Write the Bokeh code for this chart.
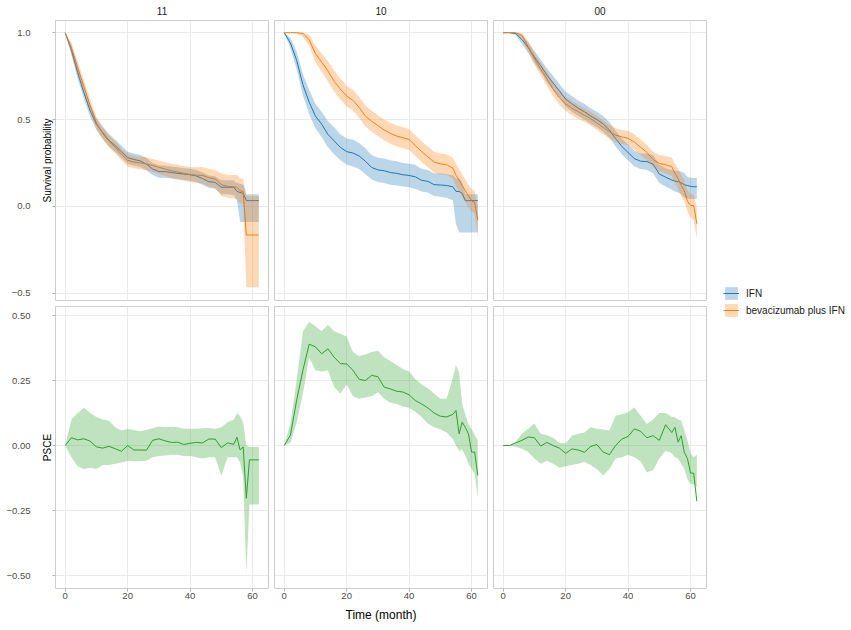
from bokeh.plotting import figure
from bokeh.layouts import row, column
from bokeh.models import (LinearAxis, FixedTicker, Grid, Legend, LegendItem,
                          Range1d)
from bokeh.embed import file_html
from bokeh.resources import INLINE

FONT = "Liberation Sans"
BLUE = "#1f77b4"
ORANGE = "#ff7f0e"
GREEN = "#2ca02c"
GRID_COLOR = "#ebebeb"
BORDER_COLOR = "#cccccc"
TICK_COLOR = "#b3b3b3"

# ---------------------------------------------------------------- data
months = [0, 2, 4, 6, 8, 10, 12, 14, 16, 18, 20, 22, 24, 26, 28, 30, 32, 34,
          36, 38, 40, 42, 44, 46, 48, 50, 52, 54, 55, 56, 57, 58, 59, 60, 61, 62]

strata = ["11", "10", "00"]
arm_labels = ["IFN", "bevacizumab plus IFN"]

# stratum 11
ifn_11 = [1.0, 0.90, 0.77, 0.655, 0.55, 0.473, 0.425, 0.38, 0.35, 0.315,
          0.28, 0.27, 0.262, 0.243, 0.215, 0.20, 0.20, 0.195, 0.19, 0.186,
          0.182, 0.175, 0.16, 0.142, 0.138, 0.11, 0.11, 0.11,
          0.086, 0.08, 0.075, 0.033, 0.033, 0.033, 0.033, 0.033]
ifn_11_lo = [1.0, 0.87, 0.735, 0.62, 0.515, 0.44, 0.39, 0.345, 0.315, 0.28,
             0.245, 0.235, 0.227, 0.208, 0.18, 0.165, 0.165, 0.16, 0.155, 0.152,
             0.148, 0.14, 0.125, 0.107, 0.102, 0.07, 0.07, 0.065,
             0.035, -0.09, -0.09, -0.09, -0.09, -0.09, -0.09, -0.09]
ifn_11_hi = [1.0, 0.93, 0.805, 0.69, 0.585, 0.506, 0.46, 0.415, 0.385, 0.35,
             0.315, 0.305, 0.297, 0.278, 0.25, 0.235, 0.235, 0.23, 0.225, 0.22,
             0.216, 0.21, 0.195, 0.177, 0.174, 0.15, 0.15, 0.15,
             0.135, 0.13, 0.125, 0.07, 0.07, 0.07, 0.07, 0.07]
bev_11 = [1.0, 0.91, 0.80, 0.69, 0.58, 0.48, 0.42, 0.375, 0.34, 0.30,
          0.265, 0.255, 0.25, 0.245, 0.235, 0.225, 0.215, 0.205, 0.198, 0.19,
          0.183, 0.18, 0.178, 0.165, 0.158, 0.125, 0.115, 0.112,
          0.11, 0.09, 0.085, -0.165, -0.165, -0.165, -0.165, -0.165]
bev_11_lo = [1.0, 0.88, 0.765, 0.655, 0.545, 0.445, 0.385, 0.34, 0.305, 0.265,
             0.23, 0.22, 0.214, 0.208, 0.198, 0.187, 0.176, 0.165, 0.157, 0.148,
             0.14, 0.135, 0.13, 0.115, 0.105, 0.06, 0.05, 0.045,
             0.04, 0.02, 0.01, -0.466, -0.466, -0.466, -0.466, -0.466]
bev_11_hi = [1.0, 0.94, 0.835, 0.725, 0.615, 0.515, 0.455, 0.41, 0.375, 0.335,
             0.30, 0.29, 0.286, 0.282, 0.272, 0.263, 0.254, 0.245, 0.239, 0.232,
             0.226, 0.225, 0.226, 0.215, 0.21, 0.19, 0.18, 0.18,
             0.18, 0.16, 0.16, 0.06, 0.06, 0.06, 0.06, 0.06]

# stratum 10
ifn_10 = [1.0, 0.94, 0.84, 0.70, 0.60, 0.52, 0.473, 0.415, 0.377, 0.34,
          0.315, 0.307, 0.29, 0.26, 0.224, 0.21, 0.205, 0.195, 0.19, 0.182,
          0.178, 0.17, 0.15, 0.144, 0.125, 0.123, 0.12, 0.113,
          0.086, 0.086, 0.075, 0.033, 0.033, 0.033, 0.033, 0.033]
ifn_10_lo = [1.0, 0.91, 0.79, 0.64, 0.53, 0.45, 0.40, 0.34, 0.30, 0.265,
             0.24, 0.23, 0.215, 0.185, 0.155, 0.14, 0.135, 0.125, 0.12, 0.115,
             0.11, 0.10, 0.085, 0.08, 0.06, 0.055, 0.05, 0.035,
             -0.10, -0.15, -0.15, -0.15, -0.15, -0.15, -0.15, -0.15]
ifn_10_hi = [1.0, 0.97, 0.89, 0.76, 0.67, 0.59, 0.545, 0.49, 0.455, 0.415,
             0.39, 0.385, 0.365, 0.335, 0.295, 0.28, 0.275, 0.265, 0.26, 0.25,
             0.245, 0.24, 0.215, 0.21, 0.19, 0.19, 0.185, 0.18,
             0.16, 0.16, 0.14, 0.07, 0.07, 0.07, 0.07, 0.07]
bev_10 = [1.0, 1.0, 1.0, 0.995, 0.96, 0.88, 0.83, 0.78, 0.72, 0.675,
          0.635, 0.61, 0.57, 0.52, 0.49, 0.465, 0.44, 0.42, 0.405, 0.395,
          0.385, 0.35, 0.315, 0.285, 0.255, 0.245, 0.24, 0.22,
          0.18, 0.15, 0.12, 0.09, 0.06, 0.033, 0.023, -0.08]
bev_10_lo = [1.0, 1.0, 0.995, 0.975, 0.925, 0.83, 0.775, 0.72, 0.66, 0.615,
             0.575, 0.55, 0.51, 0.46, 0.43, 0.405, 0.38, 0.36, 0.345, 0.335,
             0.325, 0.29, 0.255, 0.225, 0.195, 0.185, 0.18, 0.16,
             0.115, 0.085, 0.055, 0.025, -0.005, -0.03, -0.04, -0.18]
bev_10_hi = [1.0, 1.0, 1.0, 1.0, 0.99, 0.925, 0.88, 0.835, 0.78, 0.735,
             0.695, 0.67, 0.63, 0.58, 0.55, 0.525, 0.50, 0.48, 0.465, 0.455,
             0.445, 0.41, 0.375, 0.345, 0.315, 0.305, 0.30, 0.28,
             0.245, 0.215, 0.185, 0.155, 0.125, 0.10, 0.09, 0.0]

# stratum 00
ifn_00 = [1.0, 1.0, 0.995, 0.96, 0.915, 0.86, 0.81, 0.755, 0.71, 0.665,
          0.617, 0.59, 0.565, 0.545, 0.52, 0.50, 0.475, 0.44, 0.39, 0.345,
          0.31, 0.275, 0.26, 0.258, 0.243, 0.186, 0.168, 0.152,
          0.145, 0.143, 0.135, 0.125, 0.12, 0.115, 0.113, 0.113]
ifn_00_lo = [1.0, 1.0, 0.985, 0.935, 0.885, 0.825, 0.775, 0.715, 0.67, 0.625,
             0.575, 0.545, 0.52, 0.50, 0.475, 0.455, 0.43, 0.395, 0.345, 0.30,
             0.265, 0.23, 0.215, 0.21, 0.19, 0.135, 0.115, 0.095,
             0.085, 0.08, 0.07, 0.05, 0.045, 0.042, 0.042, 0.042]
ifn_00_hi = [1.0, 1.0, 1.0, 0.985, 0.945, 0.895, 0.845, 0.795, 0.75, 0.705,
             0.66, 0.635, 0.61, 0.59, 0.565, 0.545, 0.52, 0.485, 0.435, 0.39,
             0.355, 0.32, 0.305, 0.305, 0.295, 0.24, 0.22, 0.21,
             0.205, 0.205, 0.20, 0.19, 0.17, 0.165, 0.163, 0.163]
bev_00 = [1.0, 1.0, 1.0, 0.985, 0.92, 0.85, 0.79, 0.735, 0.675, 0.625,
          0.59, 0.565, 0.545, 0.525, 0.505, 0.48, 0.455, 0.43, 0.41, 0.40,
          0.392, 0.37, 0.34, 0.31, 0.27, 0.247, 0.24, 0.228,
          0.19, 0.16, 0.12, 0.09, 0.03, 0.005, 0.005, -0.10]
bev_00_lo = [1.0, 1.0, 0.995, 0.965, 0.89, 0.815, 0.755, 0.695, 0.635, 0.585,
             0.55, 0.525, 0.505, 0.485, 0.465, 0.44, 0.415, 0.39, 0.37, 0.36,
             0.35, 0.325, 0.295, 0.265, 0.225, 0.20, 0.19, 0.175,
             0.135, 0.10, 0.06, 0.03, -0.03, -0.06, -0.08, -0.19]
bev_00_hi = [1.0, 1.0, 1.0, 1.0, 0.95, 0.885, 0.825, 0.775, 0.715, 0.665,
             0.63, 0.605, 0.585, 0.565, 0.545, 0.52, 0.495, 0.47, 0.45, 0.44,
             0.435, 0.415, 0.385, 0.355, 0.315, 0.295, 0.29, 0.28,
             0.245, 0.22, 0.18, 0.15, 0.09, 0.07, 0.07, -0.01]

# PSCE per stratum
psce_11 = [0.0, 0.03, 0.022, 0.026, 0.017, -0.005, -0.01, -0.003, -0.012, -0.022,
           0.0, -0.017, -0.017, -0.018, 0.02, 0.026, 0.018, 0.012, 0.013, 0.004,
           0.009, 0.012, 0.01, 0.025, 0.025, -0.008, 0.01, 0.005,
           0.032, -0.017, -0.005, -0.203, -0.055, -0.055, -0.055, -0.055]
psce_11_lo = [0.0, -0.045, -0.08, -0.09, -0.085, -0.09, -0.075, -0.075, -0.07, -0.065,
              -0.058, -0.06, -0.06, -0.058, -0.045, -0.04, -0.038, -0.035, -0.035, -0.04,
              -0.04, -0.045, -0.05, -0.045, -0.045, -0.115, -0.045, -0.045,
              -0.045, -0.065, -0.12, -0.49, -0.227, -0.227, -0.227, -0.227]
psce_11_hi = [0.0, 0.10, 0.125, 0.145, 0.125, 0.11, 0.10, 0.095, 0.07, 0.058,
              0.064, 0.06, 0.055, 0.06, 0.068, 0.073, 0.07, 0.072, 0.07, 0.065,
              0.065, 0.065, 0.067, 0.068, 0.065, 0.07, 0.09, 0.10,
              0.124, 0.115, 0.09, 0.0, -0.006, -0.006, -0.006, -0.006]

psce_10 = [0.0, 0.04, 0.175, 0.29, 0.39, 0.38, 0.353, 0.372, 0.34, 0.315,
           0.314, 0.29, 0.255, 0.25, 0.27, 0.265, 0.225, 0.218, 0.209, 0.206,
           0.195, 0.173, 0.16, 0.145, 0.125, 0.113, 0.11, 0.12,
           0.135, 0.045, 0.09, 0.07, 0.045, -0.025, -0.025, -0.115]
psce_10_lo = [0.0, 0.01, 0.09, 0.20, 0.34, 0.29, 0.285, 0.29, 0.225, 0.20,
              0.235, 0.19, 0.18, 0.185, 0.19, 0.205, 0.18, 0.165, 0.16, 0.15,
              0.145, 0.13, 0.11, 0.085, 0.07, 0.063, 0.05, 0.025,
              0.0, -0.02, -0.015, -0.04, -0.07, -0.09, -0.11, -0.20]
psce_10_hi = [0.0, 0.085, 0.25, 0.44, 0.475, 0.46, 0.44, 0.465, 0.44, 0.43,
              0.42, 0.36, 0.345, 0.35, 0.36, 0.365, 0.34, 0.325, 0.31, 0.295,
              0.285, 0.255, 0.235, 0.22, 0.20, 0.18, 0.18, 0.26,
              0.31, 0.28, 0.16, 0.12, 0.083, 0.064, 0.04, 0.02]

psce_00 = [0.0, 0.0, 0.01, 0.02, 0.033, 0.03, -0.002, 0.012, 0.0, -0.01,
           -0.03, -0.013, -0.017, -0.026, -0.004, 0.004, -0.025, -0.035, 0.0, 0.025,
           0.035, 0.064, 0.055, 0.03, 0.038, 0.02, 0.08, 0.05,
           0.07, 0.013, 0.038, -0.026, -0.05, -0.106, -0.106, -0.214]
psce_00_lo = [0.0, 0.0, -0.005, -0.012, -0.025, -0.05, -0.07, -0.058, -0.07, -0.085,
              -0.08, -0.075, -0.07, -0.062, -0.075, -0.09, -0.115, -0.09, -0.05, -0.045,
              -0.035, -0.045, -0.06, -0.103, -0.095, -0.05, -0.02, -0.03,
              -0.045, -0.05, -0.07, -0.09, -0.13, -0.147, -0.15, -0.16]
psce_00_hi = [0.0, 0.0, 0.015, 0.045, 0.065, 0.085, 0.045, 0.04, 0.03, 0.01,
              0.008, 0.038, 0.045, 0.05, 0.07, 0.065, 0.062, 0.058, 0.115, 0.12,
              0.128, 0.147, 0.115, 0.083, 0.10, 0.125, 0.125, 0.11,
              0.109, 0.10, 0.095, 0.06, 0.02, -0.03, -0.045, -0.035]

time_ticks = [0, 20, 40, 60]
surv_ticks = [-0.5, 0.0, 0.5, 1.0]
surv_tick_labels = ["\u22120.5", "0.0", "0.5", "1.0"]
psce_ticks = [-0.5, -0.25, 0.0, 0.25, 0.5]
psce_tick_labels = ["\u22120.50", "\u22120.25", "0.00", "0.25", "0.50"]

survival = {
    "11": [(ifn_11, ifn_11_lo, ifn_11_hi), (bev_11, bev_11_lo, bev_11_hi)],
    "10": [(ifn_10, ifn_10_lo, ifn_10_hi), (bev_10, bev_10_lo, bev_10_hi)],
    "00": [(ifn_00, ifn_00_lo, ifn_00_hi), (bev_00, bev_00_lo, bev_00_hi)],
}
psce = {
    "11": (psce_11, psce_11_lo, psce_11_hi),
    "10": (psce_10, psce_10_lo, psce_10_hi),
    "00": (psce_00, psce_00_lo, psce_00_hi),
}

X_RANGE = (-3.1, 65.1)
SURV_RANGE = (-0.542, 1.07)
PSCE_RANGE = (-0.55, 0.535)
FRAME_W = 213


def make_panel(y_range, y_ticks, frame_h, left, top, bottom, title=None):
    p = figure(frame_width=FRAME_W, frame_height=frame_h,
               x_range=X_RANGE, y_range=y_range,
               x_axis_location=None, y_axis_location=None,
               toolbar_location=None, output_backend="svg",
               min_border_left=left, min_border_right=1,
               min_border_top=top, min_border_bottom=bottom,
               outline_line_color=BORDER_COLOR, outline_line_width=1,
               background_fill_color="white", border_fill_color="white",
               title=title)
    p.center = [r for r in p.center if not isinstance(r, Grid)]
    p.add_layout(Grid(dimension=0, ticker=FixedTicker(ticks=time_ticks),
                      grid_line_color=GRID_COLOR, grid_line_width=1), "center")
    p.add_layout(Grid(dimension=1, ticker=FixedTicker(ticks=y_ticks),
                      grid_line_color=GRID_COLOR, grid_line_width=1), "center")
    if title is not None:
        p.title.align = "center"
        p.title.vertical_align = "top"
        p.title.text_font = FONT
        p.title.text_font_size = "10px"
        p.title.text_font_style = "normal"
        p.title.text_color = "#1a1a1a"
        p.title.standoff = 8
    return p


def add_y_axes(p, ticks, labels, title):
    # inner axis: tick marks at the panel edge plus the axis title
    inner = LinearAxis(ticker=FixedTicker(ticks=ticks), axis_label=title,
                       axis_label_standoff=0,
                       axis_label_text_font=FONT,
                       axis_label_text_font_size="10px",
                       axis_label_text_font_style="normal",
                       axis_label_text_color="black",
                       major_label_text_font_size="1px",
                       major_label_text_color=None,
                       major_label_standoff=0,
                       major_tick_out=3, major_tick_in=0,
                       major_tick_line_color=TICK_COLOR,
                       minor_tick_line_color=None, axis_line_color=None)
    # outer axis: the tick labels
    outer = LinearAxis(ticker=FixedTicker(ticks=ticks),
                       major_label_overrides=dict(zip(ticks, labels)),
                       major_label_text_font=FONT,
                       major_label_text_font_size="9.5px",
                       major_label_text_color="#4d4d4d",
                       major_label_standoff=8,
                       major_tick_out=0, major_tick_in=0,
                       major_tick_line_color=None,
                       minor_tick_line_color=None, axis_line_color=None)
    p.add_layout(inner, "left")
    p.add_layout(outer, "left")


def add_x_axis(p, label=None):
    xa = LinearAxis(ticker=FixedTicker(ticks=time_ticks),
                    major_label_text_font=FONT,
                    major_label_text_font_size="9.5px",
                    major_label_text_color="#4d4d4d",
                    major_label_standoff=1,
                    major_tick_out=3, major_tick_in=0,
                    major_tick_line_color=TICK_COLOR,
                    minor_tick_line_color=None, axis_line_color=None)
    if label:
        xa.axis_label = label
        xa.axis_label_text_font = FONT
        xa.axis_label_text_font_size = "12px"
        xa.axis_label_text_font_style = "normal"
        xa.axis_label_text_color = "black"
        xa.axis_label_standoff = 6
    p.add_layout(xa, "below")


top_row, bottom_row = [], []
for i, s in enumerate(strata):
    left = 55 if i == 0 else 5

    # survival curves, then their confidence bands laid over them
    pt = make_panel(SURV_RANGE, surv_ticks, 280, left, 20, 6, title=s)
    arms = survival[s]
    for (est, lo, hi), color in zip(arms, [BLUE, ORANGE]):
        pt.line(x=months, y=est, line_color=color, line_width=1)
    for (est, lo, hi), color in zip(arms, [BLUE, ORANGE]):
        pt.varea(x=months, y1=lo, y2=hi, fill_color=color, fill_alpha=0.3)
    if i == 0:
        add_y_axes(pt, surv_ticks, surv_tick_labels, "Survival probability")
    top_row.append(pt)

    # PSCE with its confidence band
    pb = make_panel(PSCE_RANGE, psce_ticks, 282, left, 0, 42)
    est, lo, hi = psce[s]
    pb.varea(x=months, y1=lo, y2=hi, fill_color=GREEN, fill_alpha=0.3)
    pb.line(x=months, y=est, line_color=GREEN, line_width=1)
    if i == 0:
        add_y_axes(pb, psce_ticks, psce_tick_labels, "PSCE")
    add_x_axis(pb, "Time (month)" if i == 1 else None)
    bottom_row.append(pb)

# legend panel: the arm renderers sit outside its visible ranges, so only
# the legend keys show
lg = figure(width=144, height=630, x_range=Range1d(-20, -10),
            y_range=Range1d(-20, -10),
            x_axis_location=None, y_axis_location=None,
            toolbar_location=None, output_backend="svg", min_border=0,
            outline_line_color=None)
lg.grid.visible = False
items = []
for (est, lo, hi), label, color in zip(survival["11"], arm_labels, [BLUE, ORANGE]):
    band = lg.varea(x=months, y1=lo, y2=hi, fill_color=color, fill_alpha=0.3)
    ln = lg.line(x=months, y=est, line_color=color, line_width=1)
    items.append(LegendItem(label=label, renderers=[band, ln]))
legend = Legend(items=items, location=(16, 312),
                glyph_width=16, glyph_height=16, spacing=1,
                padding=0, margin=0, label_standoff=7,
                label_text_font=FONT, label_text_font_size="10px",
                label_text_color="#1a1a1a",
                border_line_color=None, background_fill_alpha=0)
lg.add_layout(legend, "center")

layout = row(column(row(*top_row), row(*bottom_row)), lg)

open("out.html", "w").write(file_html(layout, INLINE))
